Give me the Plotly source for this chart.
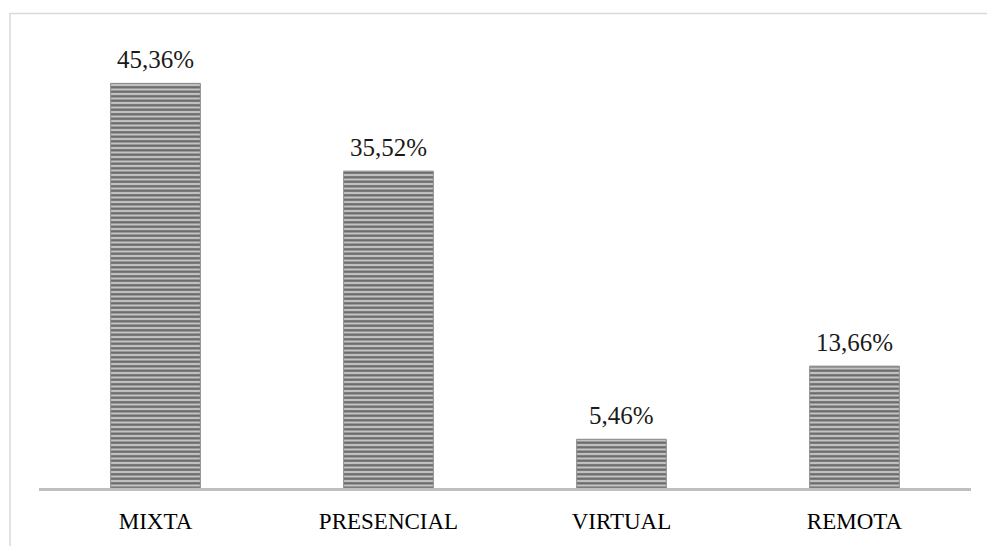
import plotly.graph_objects as go

# Modalidad de estudio: porcentaje de respuestas
categorias = ["MIXTA", "PRESENCIAL", "VIRTUAL", "REMOTA"]
porcentajes = [45.36, 35.52, 5.46, 13.66]
etiquetas = ["45,36%", "35,52%", "5,46%", "13,66%"]

W, H = 987, 546
ML, MR, MT, MB = 39, 16, 40, 51
plot_w = W - ML - MR
plot_h = H - MT - MB
y_max = plot_h / 9.06


def px_to_paper_x(px):
    return (px - ML) / plot_w


def px_to_paper_y(py):
    return (H - MB - py) / plot_h


fig = go.Figure()

fig.add_trace(go.Bar(
    x=categorias,
    y=porcentajes,
    width=0.385,
    marker=dict(
        color="#c2c2c2",
        line=dict(width=1, color="#8c8c8c"),
        pattern=dict(shape="-", fgcolor="#666666", bgcolor="#c4c4c4",
                     size=4.5, solidity=0.5, fillmode="replace"),
    ),
    hoverinfo="skip",
))

# value labels above each bar
for cat, val, txt in zip(categorias, porcentajes, etiquetas):
    fig.add_annotation(
        x=cat, y=val, text=txt, showarrow=False,
        yanchor="bottom", yshift=8,
        font=dict(family="Liberation Serif", size=25, color="#1a1a1a"),
    )

# outer frame of the chart area
fig.add_shape(
    type="rect", xref="paper", yref="paper",
    x0=px_to_paper_x(10), x1=px_to_paper_x(W + 20),
    y0=px_to_paper_y(H + 20), y1=px_to_paper_y(13),
    line=dict(color="#d9d9d9", width=1.5), fillcolor="rgba(0,0,0,0)",
    layer="below",
)

fig.update_layout(
    width=W, height=H,
    margin=dict(l=ML, r=MR, t=MT, b=MB),
    paper_bgcolor="white", plot_bgcolor="white",
    showlegend=False,
    bargap=0.6,
    xaxis=dict(
        showline=True, linecolor="#bfbfbf", linewidth=3,
        showgrid=False, zeroline=False, ticks="",
        tickfont=dict(family="Liberation Serif", size=23, color="black"),
        ticklabelstandoff=10,
    ),
    yaxis=dict(
        range=[0, y_max], visible=False, showgrid=False, zeroline=False,
    ),
)

fig.write_html("out.html")
